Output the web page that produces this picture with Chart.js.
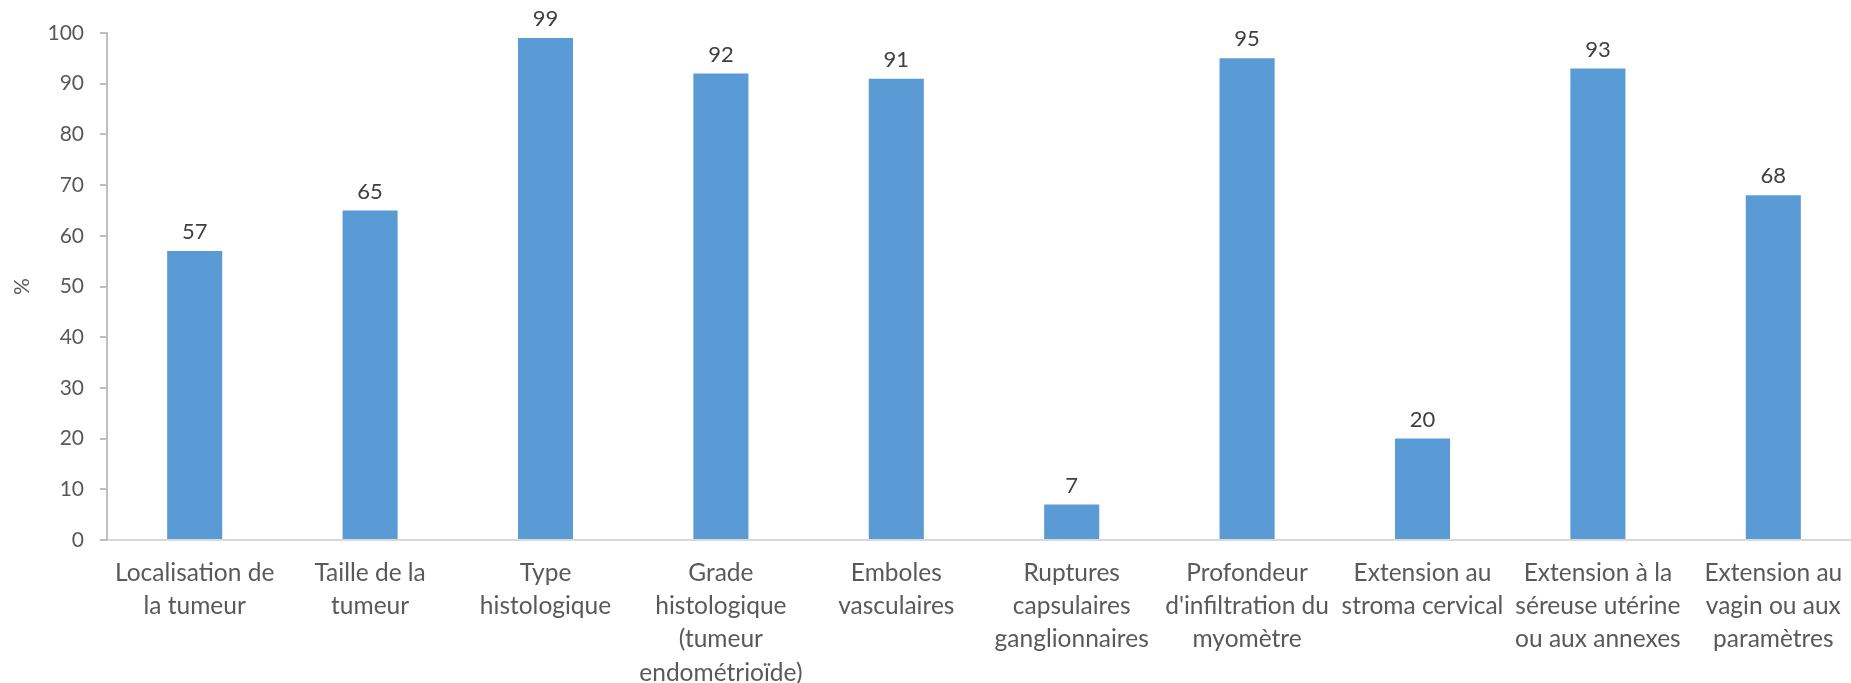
<!DOCTYPE html>
<html lang="fr">
<head>
<meta charset="utf-8">
<title>Critères histologiques</title>
<script src="https://cdn.jsdelivr.net/npm/chart.js@4/dist/chart.umd.min.js"></script>
<style>
  html, body { margin: 0; padding: 0; background: #fff; overflow: hidden; }
  #wrap { width: 1851px; height: 683px; overflow: hidden; }
  /* le canevas est un peu plus large : la zone de tracé est coupée à droite */
  #chart { display: block; }
</style>
</head>
<body>
<div id="wrap"><canvas id="chart" width="1861" height="683"></canvas></div>
<script>
// Catégories (libellés sur plusieurs lignes)
const categories = [
    ["Localisation de", "la tumeur"],
    ["Taille de la", "tumeur"],
    ["Type", "histologique"],
    ["Grade", "histologique", "(tumeur", "endométrioïde)"],
    ["Emboles", "vasculaires"],
    ["Ruptures", "capsulaires", "ganglionnaires"],
    ["Profondeur", "d'infiltration du", "myomètre"],
    ["Extension au", "stroma cervical"],
    ["Extension à la", "séreuse utérine", "ou aux annexes"],
    ["Extension au", "vagin ou aux", "paramètres"]
];

// Pourcentages
const values = [57, 65, 99, 92, 91, 7, 95, 20, 93, 68];

// Graduations de l'axe Y
const yMin = 0;
const yMax = 100;
const yStep = 10;

const FONT = "Lato, 'Open Sans', sans-serif";
const TEXT_COLOR = "#595959";

// Plugin simple pour écrire la valeur au-dessus de chaque barre
const valueLabels = {
    id: "valueLabels",
    afterDatasetsDraw(chart) {
        const ctx = chart.ctx;
        const meta = chart.getDatasetMeta(0);
        ctx.save();
        ctx.font = "22px " + FONT;
        ctx.fillStyle = "#404040";
        ctx.textAlign = "center";
        ctx.textBaseline = "bottom";
        meta.data.forEach((bar, i) => {
            ctx.fillText(String(values[i]), bar.x, bar.y - 8);
        });
        ctx.restore();
    }
};

function main() {
    const ctx = document.getElementById("chart").getContext("2d");
    new Chart(ctx, {
        type: "bar",
        data: {
            labels: categories,
            datasets: [{
                label: "%",
                data: values,
                backgroundColor: "#5b9bd5",
                borderWidth: 0,
                categoryPercentage: 1,
                barPercentage: 0.314
            }]
        },
        options: {
            responsive: false,
            animation: false,
            layout: {
                padding: { top: 33, right: 0, bottom: 0, left: 0 }
            },
            plugins: {
                legend: { display: false },
                tooltip: { enabled: false }
            },
            scales: {
                x: {
                    grid: { display: false, drawTicks: false },
                    border: { color: "#d9d9d9", width: 2 },
                    ticks: {
                        color: TEXT_COLOR,
                        font: { family: FONT, size: 24.5, lineHeight: 1.36 },
                        padding: 16,
                        maxRotation: 0,
                        autoSkip: false
                    },
                    afterFit(scale) { scale.height = 143; }
                },
                y: {
                    min: yMin,
                    max: yMax,
                    grid: {
                        drawOnChartArea: false,
                        drawTicks: true,
                        tickLength: 7,
                        color: "#bfbfbf",
                        lineWidth: 2
                    },
                    border: { color: "#bfbfbf", width: 2 },
                    ticks: {
                        stepSize: yStep,
                        color: TEXT_COLOR,
                        font: { family: FONT, size: 21 },
                        padding: 16
                    },
                    title: {
                        display: true,
                        text: "%",
                        color: TEXT_COLOR,
                        font: { family: FONT, size: 21 },
                        padding: { top: 10, bottom: 0 }
                    },
                    afterFit(scale) { scale.width = 107; }
                }
            }
        },
        plugins: [valueLabels]
    });
}

window.onload = main;
</script>
</body>
</html>
